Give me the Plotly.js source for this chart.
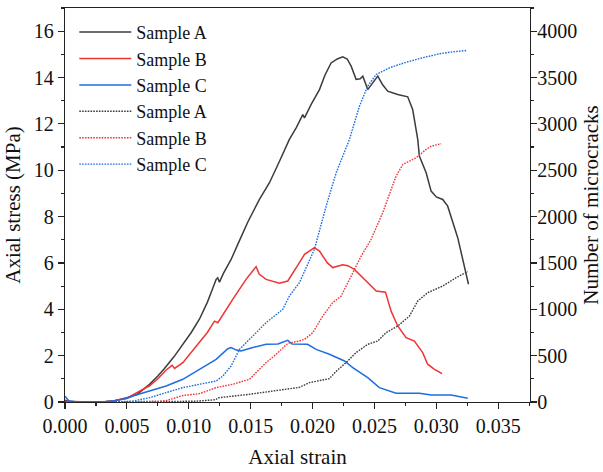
<!DOCTYPE html>
<html>
<head>
<meta charset="utf-8">
<script src="https://cdn.plot.ly/plotly-3.0.1.min.js"></script>
<style>html,body{margin:0;padding:0;background:#fff}#chart{width:603px;height:472px}</style>
</head>
<body>
<div id="chart"></div>
<script>
// ---- Axial stress (MPa) vs axial strain ----
var strainStressA = [0, 0.0003, 0.001, 0.002, 0.003, 0.004, 0.005, 0.0058, 0.0065, 0.00683, 0.0075, 0.008, 0.0088, 0.00952, 0.0102, 0.01086, 0.0115, 0.0119, 0.01221, 0.01234, 0.01248, 0.0128, 0.01342, 0.01396, 0.0148, 0.01571, 0.0161, 0.01652, 0.01733, 0.01813, 0.0187, 0.01921, 0.01935, 0.0199, 0.02056, 0.021, 0.0215, 0.022, 0.02244, 0.0228, 0.02312, 0.02352, 0.02385, 0.02406, 0.02446, 0.0249, 0.02527, 0.02565, 0.02607, 0.02688, 0.0275, 0.02769, 0.02809, 0.0285, 0.02863, 0.02918, 0.02958, 0.03, 0.03052, 0.03092, 0.03173, 0.03227, 0.0326];
var stressA = [0.08, 0.02, 0, 0, 0, 0.05, 0.18, 0.32, 0.6, 0.76, 1.12, 1.42, 1.95, 2.49, 3.0, 3.57, 4.3, 4.85, 5.29, 5.36, 5.17, 5.55, 6.15, 6.8, 7.8, 8.74, 9.1, 9.46, 10.39, 11.33, 11.85, 12.4, 12.26, 12.85, 13.48, 14.1, 14.63, 14.8, 14.89, 14.8, 14.49, 13.92, 13.95, 14.06, 13.48, 13.8, 14.06, 13.7, 13.41, 13.27, 13.2, 13.17, 12.62, 11.33, 10.61, 9.89, 9.1, 8.85, 8.74, 8.45, 7.09, 5.86, 5.08];

var strainStressB = [0, 0.001, 0.002, 0.003, 0.004, 0.005, 0.00548, 0.00683, 0.0075, 0.00817, 0.00866, 0.00885, 0.00952, 0.01086, 0.0115, 0.01208, 0.01235, 0.01355, 0.01463, 0.01544, 0.0157, 0.01625, 0.01673, 0.01733, 0.018, 0.01854, 0.01894, 0.01935, 0.02015, 0.02056, 0.0212, 0.02163, 0.02244, 0.02285, 0.02338, 0.02433, 0.02514, 0.02589, 0.02635, 0.02688, 0.02756, 0.02823, 0.0289, 0.0293, 0.02985, 0.03047];
var stressB = [0.03, 0, 0, 0, 0.05, 0.17, 0.3, 0.7, 1.0, 1.38, 1.58, 1.45, 1.7, 2.56, 3.0, 3.49, 3.42, 4.43, 5.29, 5.84, 5.51, 5.29, 5.22, 5.12, 5.22, 5.65, 6.01, 6.37, 6.66, 6.51, 6.0, 5.8, 5.92, 5.88, 5.72, 5.22, 4.79, 4.74, 3.92, 3.28, 2.78, 2.63, 2.13, 1.63, 1.41, 1.22];

var strainStressC = [0, 0.0003, 0.001, 0.002, 0.003, 0.004, 0.005, 0.00548, 0.00683, 0.00817, 0.00952, 0.01086, 0.01221, 0.01315, 0.01342, 0.0138, 0.01423, 0.01517, 0.01625, 0.0172, 0.018, 0.01835, 0.01894, 0.0196, 0.02029, 0.02136, 0.02258, 0.02325, 0.02446, 0.0254, 0.02675, 0.02863, 0.0296, 0.0312, 0.03254];
var stressC = [0.25, 0.05, 0, 0, 0, 0.05, 0.15, 0.26, 0.47, 0.69, 0.98, 1.41, 1.84, 2.3, 2.35, 2.25, 2.2, 2.35, 2.49, 2.5, 2.66, 2.5, 2.49, 2.49, 2.27, 2.06, 1.77, 1.48, 1.05, 0.62, 0.38, 0.38, 0.3, 0.3, 0.16];

// ---- Number of microcracks vs axial strain ----
var strainCracksA = [0, 0.004, 0.008, 0.0105, 0.0122, 0.01234, 0.0149, 0.01625, 0.0176, 0.01894, 0.01975, 0.02136, 0.0219, 0.02271, 0.02352, 0.02446, 0.02527, 0.02594, 0.02688, 0.02783, 0.0285, 0.0293, 0.03051, 0.0316, 0.03254];
var cracksA = [0, 0, 2, 8, 25, 45, 83, 108, 129, 158, 209, 252, 330, 425, 533, 622, 658, 748, 819, 927, 1089, 1179, 1250, 1341, 1406];

var strainCracksB = [0, 0.006, 0.0075, 0.00817, 0.00952, 0.01086, 0.01221, 0.01355, 0.0149, 0.01544, 0.01625, 0.01706, 0.018, 0.01894, 0.01935, 0.02002, 0.02082, 0.02163, 0.02231, 0.02312, 0.02393, 0.02473, 0.02567, 0.02675, 0.02729, 0.02837, 0.02917, 0.0296, 0.03039];
var cracksB = [0, 0, 5, 15, 70, 90, 155, 191, 245, 317, 425, 514, 633, 658, 676, 748, 927, 1072, 1143, 1358, 1574, 1754, 2042, 2436, 2562, 2634, 2724, 2760, 2786];

var strainCracksC = [0, 0.004, 0.0055, 0.00683, 0.00817, 0.00952, 0.01086, 0.01221, 0.01275, 0.01342, 0.0141, 0.01517, 0.01625, 0.01759, 0.01813, 0.01894, 0.02015, 0.0211, 0.02191, 0.02298, 0.02379, 0.02446, 0.02514, 0.02621, 0.02756, 0.0289, 0.03025, 0.0313, 0.03241];
var cracksC = [0, 0, 10, 47, 101, 155, 191, 226, 280, 388, 568, 711, 856, 999, 1143, 1287, 1646, 2113, 2473, 2832, 3191, 3407, 3533, 3605, 3665, 3713, 3756, 3777, 3791];

var seriesNames = ['Sample A', 'Sample B', 'Sample C'];
var xTickVals = [0, 0.005, 0.01, 0.015, 0.02, 0.025, 0.03, 0.035];
var xTickText = ['0.000', '0.005', '0.010', '0.015', '0.020', '0.025', '0.030', '0.035'];

var colA = '#3c3c3c', colB = '#f03333', colC = '#1f6de0';
var FONT = 'Liberation Serif, Times New Roman, serif';
var DOTS = '1.6px,1.2px';

var traces = [
  {x: strainStressA, y: stressA, name: seriesNames[0], mode: 'lines', line: {color: colA, width: 1.5}},
  {x: strainStressB, y: stressB, name: seriesNames[1], mode: 'lines', line: {color: colB, width: 1.5}},
  {x: strainStressC, y: stressC, name: seriesNames[2], mode: 'lines', line: {color: colC, width: 1.5}},
  {x: strainCracksA, y: cracksA, name: seriesNames[0], yaxis: 'y2', mode: 'lines', line: {color: colA, width: 1.4, dash: DOTS}},
  {x: strainCracksB, y: cracksB, name: seriesNames[1], yaxis: 'y2', mode: 'lines', line: {color: colB, width: 1.4, dash: DOTS}},
  {x: strainCracksC, y: cracksC, name: seriesNames[2], yaxis: 'y2', mode: 'lines', line: {color: colC, width: 1.4, dash: DOTS}}
];

var axCommon = {
  showline: true, linecolor: '#222', linewidth: 1.2,
  ticks: 'outside', ticklen: 6, tickwidth: 1.2, tickcolor: '#222',
  showgrid: false, zeroline: false,
  tickfont: {family: FONT, size: 20, color: '#111'}
};

var layout = {
  width: 603, height: 472,
  margin: {l: 65, r: 73, t: 8, b: 70},
  paper_bgcolor: '#fff', plot_bgcolor: '#fff',
  font: {family: FONT, color: '#111'},
  showlegend: true,
  legend: {x: 0.02, y: 0.985, xanchor: 'left', yanchor: 'top', bgcolor: 'rgba(0,0,0,0)',
           font: {family: FONT, size: 18, color: '#111'}, itemwidth: 52},
  xaxis: Object.assign({}, axCommon, {
    range: [0, 0.03757], tickvals: xTickVals, ticktext: xTickText, mirror: true,
    minor: {dtick: 0.0025, tick0: 0, ticks: 'outside', ticklen: 3, tickcolor: '#222'},
    title: {text: 'Axial strain', font: {family: FONT, size: 21, color: '#111'}, standoff: 13}
  }),
  yaxis: Object.assign({}, axCommon, {
    range: [0, 17], dtick: 2, tick0: 0,
    minor: {dtick: 1, tick0: 0, ticks: 'outside', ticklen: 3, tickcolor: '#222'},
    title: {text: 'Axial stress (MPa)', font: {family: FONT, size: 21, color: '#111'}, standoff: 7}
  }),
  yaxis2: Object.assign({}, axCommon, {
    range: [0, 4250], dtick: 500, tick0: 0, overlaying: 'y', side: 'right',
    ticklabelstandoff: -4,
    minor: {dtick: 250, tick0: 0, ticks: 'outside', ticklen: 3, tickcolor: '#222'},
    title: {text: 'Number of microcracks', font: {family: FONT, size: 21, color: '#111'}, standoff: 8}
  })
};

Plotly.newPlot('chart', traces, layout, {displayModeBar: false, staticPlot: true});
</script>
</body>
</html>
